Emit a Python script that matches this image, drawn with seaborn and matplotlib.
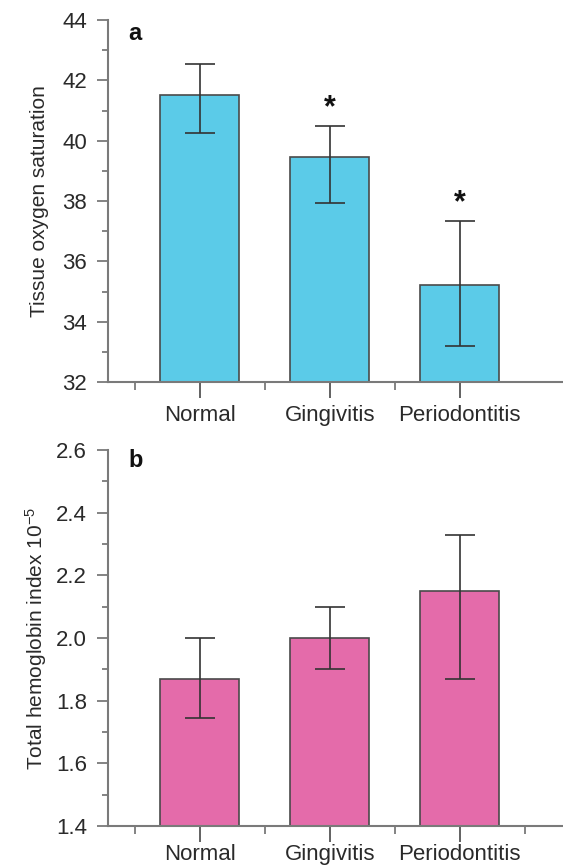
import numpy as np
import pandas as pd
import matplotlib
matplotlib.use("Agg")
import matplotlib.pyplot as plt
import seaborn as sns
from matplotlib.ticker import MultipleLocator, FixedLocator

# ---- data ----
categories = ["Normal", "Gingivitis", "Periodontitis"]
so2_mean = [41.5, 39.45, 35.2]
so2_upper = [42.55, 40.5, 37.35]
so2_lower = [40.25, 37.95, 33.2]
so2_marks = ["", "*", "*"]
thi_mean = [1.87, 2.0, 2.15]
thi_upper = [2.0, 2.1, 2.33]
thi_lower = [1.745, 1.9, 1.87]

so2_ticks = [32, 34, 36, 38, 40, 42, 44]
thi_ticks = [1.4, 1.6, 1.8, 2.0, 2.2, 2.4, 2.6]

sns.set_theme(style="ticks")
plt.rcParams["font.family"] = ["Liberation Sans", "DejaVu Sans"]
plt.rcParams["mathtext.fontset"] = "custom"
plt.rcParams["mathtext.rm"] = "Liberation Sans"
plt.rcParams["mathtext.it"] = "Liberation Sans:italic"
plt.rcParams["mathtext.bf"] = "Liberation Sans:bold"

W, H = 563, 867
fig = plt.figure(figsize=(W / 100, H / 100), dpi=100)
left = 107.7 / W
ax1 = fig.add_axes([left, 1 - 382 / H, 1 - left, (382 - 20) / H])
ax2 = fig.add_axes([left, 1 - 826 / H, 1 - left, (826 - 450) / H])

spine_c = "#7a7a7a"
text_c = "#2a2a2a"


def panel(ax, means, lo, hi, color, ticks, minor_step, ylabel, xminor,
          marks=None, xpad=5):
    df = pd.DataFrame({"group": categories, "value": means})
    sns.barplot(data=df, x="group", y="value", order=categories, color=color,
                saturation=1, width=0.61, edgecolor="#4a4a4a", linewidth=1.2,
                errorbar=None, ax=ax, zorder=2)
    xs = [p.get_x() + p.get_width() / 2 for p in ax.patches]
    m = np.array(means)
    yerr = [m - np.array(lo), np.array(hi) - m]
    ax.errorbar(xs, m, yerr=yerr, fmt="none", ecolor="#333333", elinewidth=1.2,
                capsize=11, capthick=1.2, zorder=3)
    if marks is not None:
        for x, h, s in zip(xs, hi, marks):
            if s:
                ax.annotate(s, (x, h), xytext=(0, 2), textcoords="offset points",
                            ha="center", va="bottom", fontsize=22, fontweight="bold",
                            color="#111111", zorder=4)
    ax.set_ylim(ticks[0], ticks[-1])
    ax.set_yticks(ticks)
    ax.yaxis.set_minor_locator(MultipleLocator(minor_step))
    ax.set_xlim(-0.708, 2.796)
    ax.xaxis.set_minor_locator(FixedLocator(xminor))
    ax.set_xlabel("")
    ax.set_ylabel(ylabel, fontsize=15, color=text_c)
    ax.yaxis.set_label_coords((49 - 107.7) / (W - 107.7), 0.5)
    for s in ["top", "right"]:
        ax.spines[s].set_visible(False)
    for s in ["left", "bottom"]:
        ax.spines[s].set_color(spine_c)
        ax.spines[s].set_linewidth(1.5)
    ax.tick_params(axis="y", which="major", length=8, width=1.3, color=spine_c,
                   labelsize=16, labelcolor=text_c, pad=7)
    ax.tick_params(axis="y", which="minor", length=4, width=1.3, color=spine_c)
    ax.tick_params(axis="x", which="major", length=11.5, width=1.3, color="#555555",
                   labelsize=16, labelcolor=text_c, pad=xpad)
    ax.tick_params(axis="x", which="minor", length=6, width=1.3, color=spine_c)
    ax.set_facecolor("white")


panel(ax1, so2_mean, so2_lower, so2_upper, "#5bcbe8", so2_ticks, 1.0,
      "Tissue oxygen saturation", [-0.5, 0.5, 1.5], marks=so2_marks)
ax1.set_yticklabels([str(t) for t in so2_ticks])
panel(ax2, thi_mean, thi_lower, thi_upper, "#e46baa", thi_ticks, 0.1,
      r"Total hemoglobin index 10$^{-5}$", [-0.5, 0.5, 1.5, 2.5], xpad=1.5)
ax2.set_yticklabels([f"{t:.1f}" for t in thi_ticks])

fig.text(128 / W, 1 - 40 / H, "a", ha="left", va="baseline", fontsize=17,
         fontweight="bold", color="#111111")
fig.text(128 / W, 1 - 467 / H, "b", ha="left", va="baseline", fontsize=17,
         fontweight="bold", color="#111111")

fig.savefig("out.png", dpi=100, facecolor="white")
